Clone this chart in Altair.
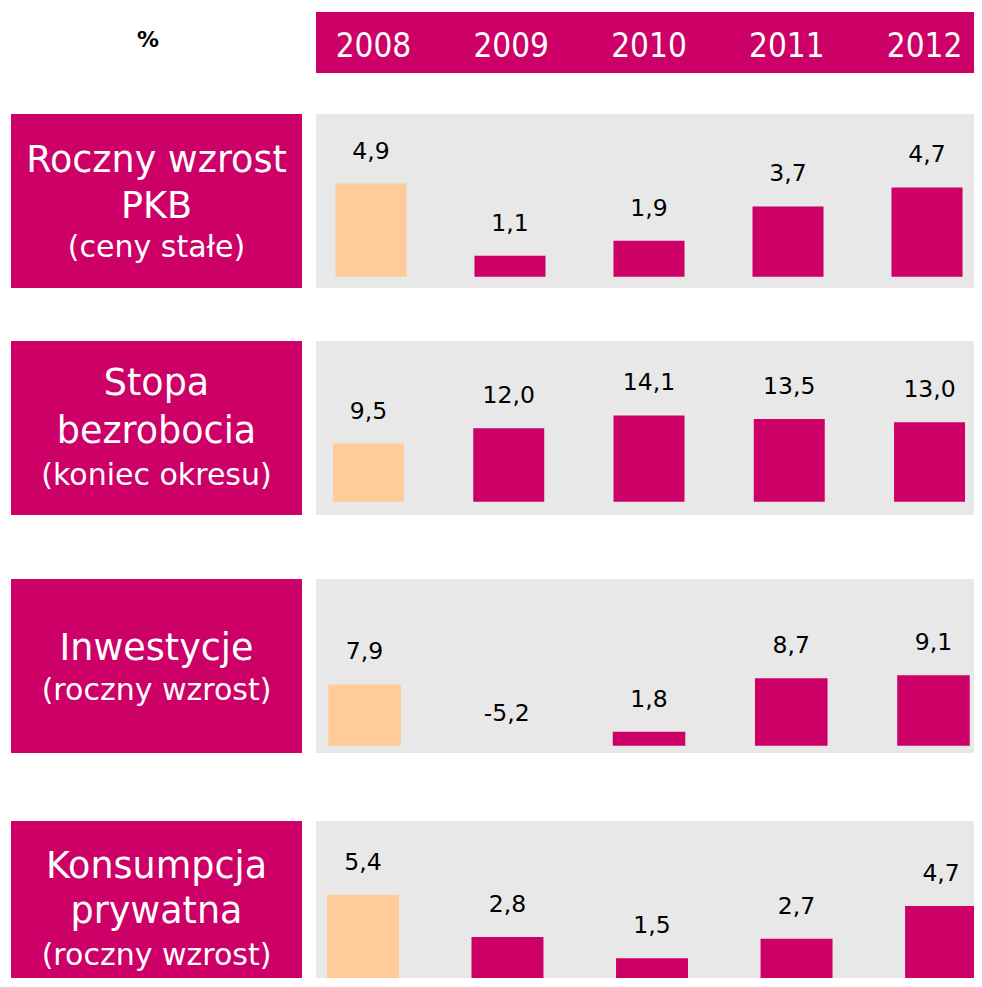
import altair as alt
import pandas as pd

MAGENTA = "#CC0066"
PEACH = "#FFCC99"
GRAY = "#E8E8E8"
FONT = "DejaVu Sans"
FONT_COND = "DejaVu Sans Condensed, DejaVu Sans"

years = ["2008", "2009", "2010", "2011", "2012"]
pkb = [4.9, 1.1, 1.9, 3.7, 4.7]
bezrobocie = [9.5, 12.0, 14.1, 13.5, 13.0]
inwestycje = [7.9, -5.2, 1.8, 8.7, 9.1]
konsumpcja = [5.4, 2.8, 1.5, 2.7, 4.7]

titles_pkb = ["Roczny wzrost", "PKB", "(ceny stałe)"]
titles_bezrobocie = ["Stopa", "bezrobocia", "(koniec okresu)"]
titles_inwestycje = ["Inwestycje", "(roczny wzrost)"]
titles_konsumpcja = ["Konsumpcja", "prywatna", "(roczny wzrost)"]

PANEL_W = 658      # visible width of the right-hand panels
SCALE_W = 666      # logical width of the year scale


def label_panel(lines, offsets, height=174):
    layers = []
    for line, off in zip(lines, offsets):
        size = 30 if line.startswith("(") else 36.5
        layers.append(
            alt.Chart(pd.DataFrame({"t": [line]}))
            .mark_text(font=FONT, fontSize=size, color="white",
                       align="center", baseline="alphabetic")
            .encode(text="t:N", x=alt.value(145.5), y=alt.value(off))
        )
    return alt.layer(*layers).properties(
        width=291, height=height,
        view=alt.ViewBackground(fill=MAGENTA, stroke=None),
    )


def bar_panel(values, domain, pi, po, align=0.5, height=174):
    df = pd.DataFrame({
        "year": years,
        "value": values,
        "label": [f"{v:.1f}".replace(".", ",") for v in values],
    })
    x = alt.X("year:N", sort=years, axis=None,
              scale=alt.Scale(range=[0, SCALE_W], paddingInner=pi,
                              paddingOuter=po, align=align))
    yscale = alt.Scale(domain=domain, nice=False, zero=False)
    bars = (
        alt.Chart(df)
        .transform_filter("datum.value > 0")
        .mark_bar(clip=True)
        .encode(
            x=x,
            y=alt.Y("value:Q", scale=yscale, axis=None, stack=None),
            y2=alt.datum(0),
            color=alt.condition("datum.year == '2008'",
                                alt.value(PEACH), alt.value(MAGENTA)),
        )
    )
    text = (
        alt.Chart(df)
        .transform_calculate(ly="max(datum.value, 0)")
        .mark_text(font=FONT, fontSize=23.5, color="black",
                   baseline="alphabetic", dy=-25)
        .encode(x=x, y=alt.Y("ly:Q", scale=yscale, axis=None), text="label:N")
    )
    return alt.layer(bars, text).properties(
        width=PANEL_W, height=height,
        view=alt.ViewBackground(fill=GRAY, stroke=None),
    )


pct = (
    alt.Chart(pd.DataFrame({"t": ["%"]}))
    .mark_text(font=FONT, fontSize=22, fontWeight="bold", color="black",
               baseline="alphabetic")
    .encode(text="t:N", x=alt.value(137), y=alt.value(35))
    .properties(width=291, height=61, view=alt.ViewBackground(fill="white", stroke=None))
)
year_head = (
    alt.Chart(pd.DataFrame({"year": years}))
    .mark_text(font=FONT_COND, fontSize=33, color="white", baseline="alphabetic")
    .encode(
        x=alt.X("year:N", sort=years, axis=None,
                scale=alt.Scale(type="point", padding=0.417, range=[0, SCALE_W])),
        y=alt.value(45),
        text="year:N",
    )
    .properties(width=PANEL_W, height=61,
                view=alt.ViewBackground(fill=MAGENTA, stroke=None))
)

header = alt.hconcat(pct, year_head, spacing=14)
row1 = alt.hconcat(label_panel(titles_pkb, [58, 104, 143]),
                   bar_panel(pkb, [-0.59, 8.56], 0.489, 0.14), spacing=14)
row2 = alt.hconcat(label_panel(titles_bezrobocie, [54, 102, 144]),
                   bar_panel(bezrobocie, [-2.17, 26.26], 0.494, 0.121), spacing=14)
row3 = alt.hconcat(label_panel(titles_inwestycje, [81, 121]),
                   bar_panel(inwestycje, [-0.94, 21.51], 0.49, 0.086), spacing=14)
row4 = alt.hconcat(label_panel(titles_konsumpcja, [57, 102, 144], height=157),
                   bar_panel(konsumpcja, [0.29, 9.92], 0.502, 0.055, align=0.69,
                             height=157), spacing=14)

c1 = alt.vconcat(header, row1, spacing=41)
c2 = alt.vconcat(c1, row2, spacing=53)
c3 = alt.vconcat(c2, row3, spacing=64)
chart = (
    alt.vconcat(c3, row4, spacing=68)
    .properties(padding={"left": 3, "top": 4, "right": 0, "bottom": 0})
    .configure_view(stroke=None)
    .configure(background="white")
)

chart.save("out.html", embed_options={"renderer": "svg", "actions": False})
